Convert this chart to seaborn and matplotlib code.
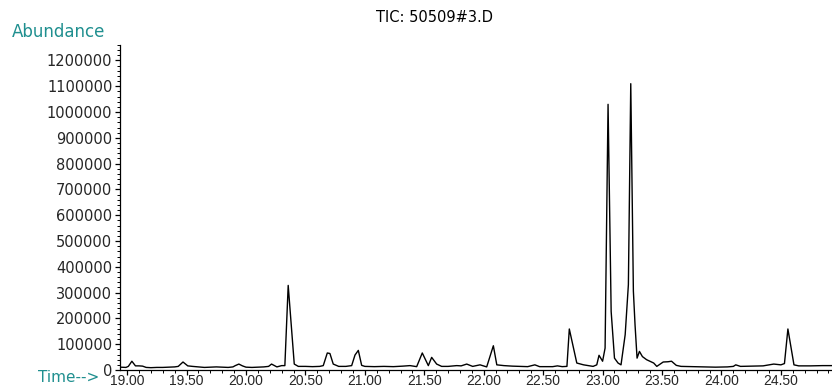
import numpy as np
import pandas as pd
import matplotlib
matplotlib.use("Agg")
import matplotlib.pyplot as plt
from matplotlib.ticker import MultipleLocator, FuncFormatter
import seaborn as sns

# Total ion chromatogram: retention time (min) and abundance
retention_time = [
    18.94, 18.99, 19.01, 19.04, 19.07, 19.10, 19.13, 19.16, 19.20, 19.25,
    19.30, 19.35, 19.40, 19.43, 19.47, 19.51, 19.55, 19.60, 19.65, 19.70,
    19.75, 19.80, 19.85, 19.89, 19.91, 19.94, 19.97, 20.00, 20.05, 20.10,
    20.15, 20.19, 20.215, 20.26, 20.30, 20.327, 20.355, 20.406, 20.44, 20.50,
    20.56, 20.62, 20.65, 20.684, 20.706, 20.734, 20.78, 20.84, 20.889, 20.917,
    20.945, 20.973, 21.00, 21.08, 21.16, 21.24, 21.32, 21.38, 21.436, 21.483,
    21.534, 21.562, 21.604, 21.646, 21.70, 21.773, 21.81, 21.857, 21.907, 21.969,
    22.025, 22.081, 22.11, 22.17, 22.24, 22.30, 22.37, 22.43, 22.47, 22.52,
    22.58, 22.62, 22.66, 22.70, 22.72, 22.783, 22.84, 22.92, 22.951, 22.97,
    23.00, 23.021, 23.046, 23.072, 23.10, 23.13, 23.155, 23.19, 23.217, 23.237,
    23.259, 23.273, 23.29, 23.31, 23.335, 23.37, 23.43, 23.456, 23.51, 23.55,
    23.58, 23.62, 23.66, 23.75, 23.85, 23.95, 24.05, 24.10, 24.12, 24.16,
    24.25, 24.35, 24.44, 24.50, 24.53, 24.559, 24.61, 24.65, 24.75, 24.85,
    24.93,
]
abundance = [
    11000, 10000, 14000, 34000, 16000, 16000, 15000, 10000, 9000, 10000,
    10000, 11000, 12000, 14000, 31000, 16000, 14000, 12000, 10000, 11000,
    12000, 11000, 10000, 12000, 17000, 23000, 16000, 11000, 10000, 11000,
    12000, 14000, 23000, 12000, 17000, 17000, 328000, 23000, 14000, 14000,
    13000, 14000, 17000, 66000, 64000, 23000, 14000, 14000, 17000, 58000,
    76000, 18000, 14000, 13000, 14000, 13000, 15000, 17000, 13000, 66000,
    17000, 49000, 23000, 14000, 14000, 17000, 16000, 23000, 14000, 20000,
    12000, 94000, 20000, 17000, 15000, 14000, 13000, 20000, 13000, 13000,
    13000, 16000, 13000, 14000, 159000, 27000, 20000, 14000, 20000, 57000,
    34000, 85000, 1030000, 227000, 46000, 27000, 20000, 137000, 331000, 1110000,
    306000, 175000, 46000, 72000, 52000, 40000, 27000, 14000, 31000, 32000,
    34000, 18000, 14000, 13000, 12000, 11000, 12000, 14000, 20000, 14000,
    15000, 16000, 23000, 20000, 25000, 159000, 20000, 16000, 16000, 17000,
    17000,
]
x_ticks = [19.0, 19.5, 20.0, 20.5, 21.0, 21.5, 22.0, 22.5, 23.0, 23.5, 24.0, 24.5]
y_ticks = list(range(0, 1200001, 100000))

df = pd.DataFrame({"time": retention_time, "abundance": abundance})

sns.set_style("ticks")
plt.rcParams["font.family"] = ["DejaVu Sans"]

teal = "#1f8f8f"
fig = plt.figure(figsize=(8.32, 3.89), dpi=100)
ax = fig.add_axes([120 / 832, 19 / 389, 712 / 832, 325 / 389])

sns.lineplot(data=df, x="time", y="abundance", color="black",
             linewidth=1.0, ax=ax, sort=False)

ax.set_xlim(18.94, 24.93)
ax.set_ylim(0, 1260000)
ax.set_xticks(x_ticks)
ax.set_yticks(y_ticks)
ax.xaxis.set_minor_locator(MultipleLocator(0.1))
ax.yaxis.set_minor_locator(MultipleLocator(20000))
ax.xaxis.set_major_formatter(FuncFormatter(lambda v, p: f"{v:.2f}"))
ax.yaxis.set_major_formatter(FuncFormatter(lambda v, p: f"{int(v)}"))

for s in ("top", "right"):
    ax.spines[s].set_visible(False)
for s in ("left", "bottom"):
    ax.spines[s].set_linewidth(0.9)
    ax.spines[s].set_color("black")

ax.tick_params(axis="both", which="major", direction="out", length=3.5,
               width=0.9, color="black")
ax.tick_params(axis="both", which="minor", direction="out", length=2.2,
               width=0.7, color="black")
ax.tick_params(axis="y", which="major", pad=2, labelsize=10.5)
ax.tick_params(axis="x", which="major", pad=-0.5)
for lbl in ax.get_xticklabels():
    lbl.set_fontfamily(["Liberation Sans"])
    lbl.set_fontsize(10)

ax.set_xlabel("")
ax.set_ylabel("")

fig.text(435 / 832, 1 - 18 / 389, "TIC: 50509#3.D", ha="center", va="center",
         fontsize=10.5, color="black")
fig.text(12 / 832, 1 - 32 / 389, "Abundance", ha="left", va="center",
         fontsize=12, color=teal)
fig.text(38 / 832, 1 - 378 / 389, "Time-->", ha="left", va="center",
         fontsize=11, color=teal)

fig.savefig("out.png", dpi=100)
